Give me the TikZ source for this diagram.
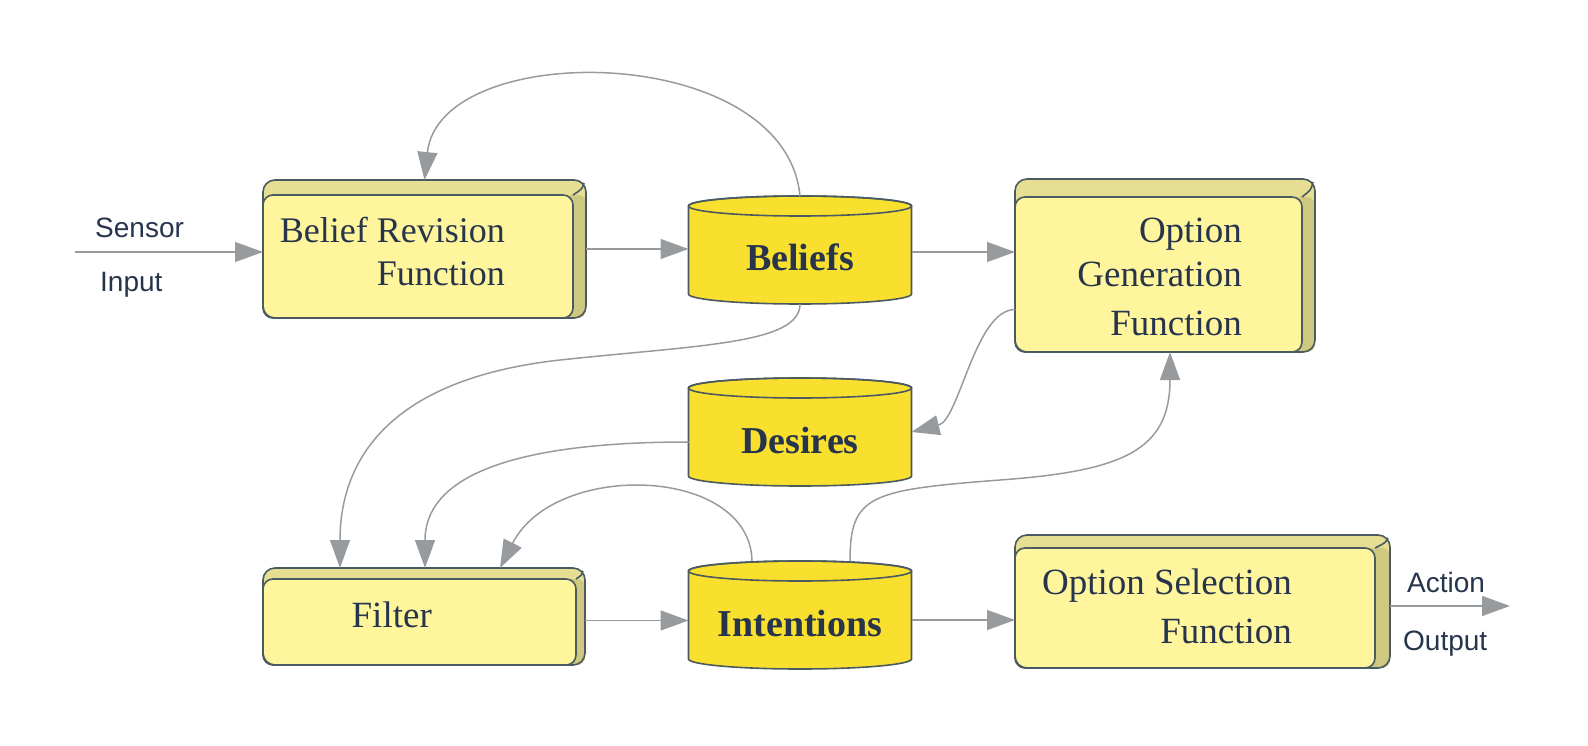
\documentclass[tikz,border=0pt]{standalone}
\usepackage{fontspec}
\setmainfont{Liberation Serif}
\newfontfamily\labelfont{Liberation Sans}
\usetikzlibrary{arrows.meta,calc}

\definecolor{frontface}{HTML}{FFF59D}
\definecolor{topface}{HTML}{E6DF93}
\definecolor{sideface}{HTML}{CFC880}
\definecolor{rimcol}{HTML}{4A5A60}
\definecolor{drumcol}{HTML}{F9E02E}
\definecolor{txtcol}{HTML}{26344C}
\definecolor{flowcol}{HTML}{989B9E}

\tikzset{
  fnouter/.style={rectangle, inner sep=0pt, outer sep=0pt},
  fntext/.style={align=right, anchor=north east, inner sep=0pt, text=txtcol, font=\fontsize{37}{44}\selectfont},
  drumbox/.style={rectangle, inner sep=0pt, outer sep=0pt, minimum width=223pt, minimum height=108pt},
  drumtext/.style={anchor=base, inner sep=0pt, text=txtcol, font=\fontsize{38}{44}\selectfont\bfseries},
  rim/.style={draw=rimcol, line width=1.6pt},
  flow/.style={draw=flowcol, line width=1.5pt, -{Triangle[length=28pt,width=20pt]}},
  iolabel/.style={anchor=base west, inner sep=0pt, text=txtcol, font=\labelfont\fontsize{28}{34}\selectfont},
}

% block with top and side faces: name, left, top, width, height, side depth, top depth
\newcommand{\fnblock}[7]{%
  \node[fnouter, minimum width=#4pt, minimum height=#5pt, anchor=north west] (#1) at (#2,#3) {};
  \fill[topface, rounded corners=12pt] (#1.south west) rectangle (#1.north east);
  \fill[sideface, rounded corners=8pt] ($(#1.north east)+(-#6-10,#7)$) rectangle (#1.south east);
  \draw[rim] ($(#1.north east)+(-#6,#7)$) .. controls ($(#1.north east)+(-#6*0.3,#7*0.6)$) .. ($(#1.north east)+(-2,3)$);
  \filldraw[rim, fill=frontface, rounded corners=10pt] (#1.south west) rectangle ($(#1.north east)+(-#6,#7)$);
  \draw[rim, rounded corners=12pt] (#1.south west) rectangle (#1.north east);
}

% data store: name, x, y, label
\newcommand{\storedrum}[4]{%
  \filldraw[rim, fill=drumcol] (#2-111.5,#3-44) -- (#2-111.5,#3+44)
    arc[start angle=180, end angle=0, x radius=111.5, y radius=10]
    -- (#2+111.5,#3-44)
    arc[start angle=0, end angle=-180, x radius=111.5, y radius=10] -- cycle;
  \draw[rim] (#2,#3-44) ellipse [x radius=111.5, y radius=10];
  \node[drumbox] (#1) at (#2,#3) {};
  \node[drumtext] (#1txt) at ([yshift=-21pt]#1.center) {#4};
}

\begin{document}
\begin{tikzpicture}[x=1pt, y=-1pt]
  \useasboundingbox (0,0) rectangle (1588,746);

  % function blocks
  \fnblock{brf}{263}{180}{323}{138}{13}{15}
  \fnblock{ogf}{1015}{179}{300}{173}{13}{18}
  \fnblock{filter}{263}{568}{322}{97}{9}{11}
  \fnblock{osf}{1015}{535}{375}{133}{15}{13}

  \node[fntext, font=\fontsize{36}{43}\selectfont] (brftxt) at (505,217) {Belief Revision\\Function};
  \node[fntext] (ogftxt) at (1242,218) {Option\\Generation\\[5pt]Function};
  \node[fntext] (filtertxt) at (432,602) {Filter};
  \node[fntext, font=\fontsize{37}{49}\selectfont] (osftxt) at (1292,569) {Option Selection\\Function};

  % data stores
  \storedrum{beliefs}{800}{250}{Beliefs}
  \storedrum{desires}{800}{432}{Desires}
  \storedrum{intentions}{800}{615}{Intentions}

  % input and output
  \coordinate (sensor) at (75,252);
  \coordinate (action) at (1510,606);
  \node[iolabel] (sensortxt) at (95,237) {Sensor};
  \node[iolabel] (inputtxt) at (100,291) {Input};
  \node[iolabel] (actiontxt) at (1407,592) {Action};
  \node[iolabel] (outputtxt) at (1403,650) {Output};

  % straight arrows
  \draw[flow] (sensor) -- (sensor -| brf.west);
  \draw[flow] (brf.east) -- (brf.east -| beliefs.west);
  \draw[flow] ([yshift=-2pt]beliefs.east) -- ([yshift=-2pt]beliefs.east -| ogf.west);
  \draw[flow] ([yshift=-4pt]filter.east) -- ([yshift=-4pt]filter.east -| intentions.west);
  \draw[flow] ([yshift=-5pt]intentions.east) -- ([yshift=-5pt]intentions.east -| osf.west);
  \draw[flow] (osf.east |- action) -- (action);

  % curved arrows
  \draw[flow] (beliefs.north) .. controls +(-15,-155) and +(15,-142) .. (brf.north);
  \draw[flow] (beliefs.south) .. controls +(0,40) and +(140,-15) .. (560,360)
    .. controls +(-180,20) and +(0,-100) .. ([xshift=77pt]filter.north west);
  \draw[flow] ([yshift=-10pt]desires.west) .. controls +(-188,0) and +(0,-87) .. ([xshift=162pt]filter.north west);
  \draw[flow] ([xshift=-48pt]intentions.north) .. controls +(-2,-95) and +(55,-108) .. ([xshift=237pt]filter.north west);
  \draw[flow] ([xshift=50pt]intentions.north) .. controls +(0,-66) and +(-130,10) .. (1000,480)
    .. controls +(124,-9) and +(0,98) .. ([xshift=5pt]ogf.south);
  \draw[flow] ([yshift=-44pt]ogf.west) .. controls +(-40,0) and +(48,-12) .. (desires.east);
\end{tikzpicture}
\end{document}
